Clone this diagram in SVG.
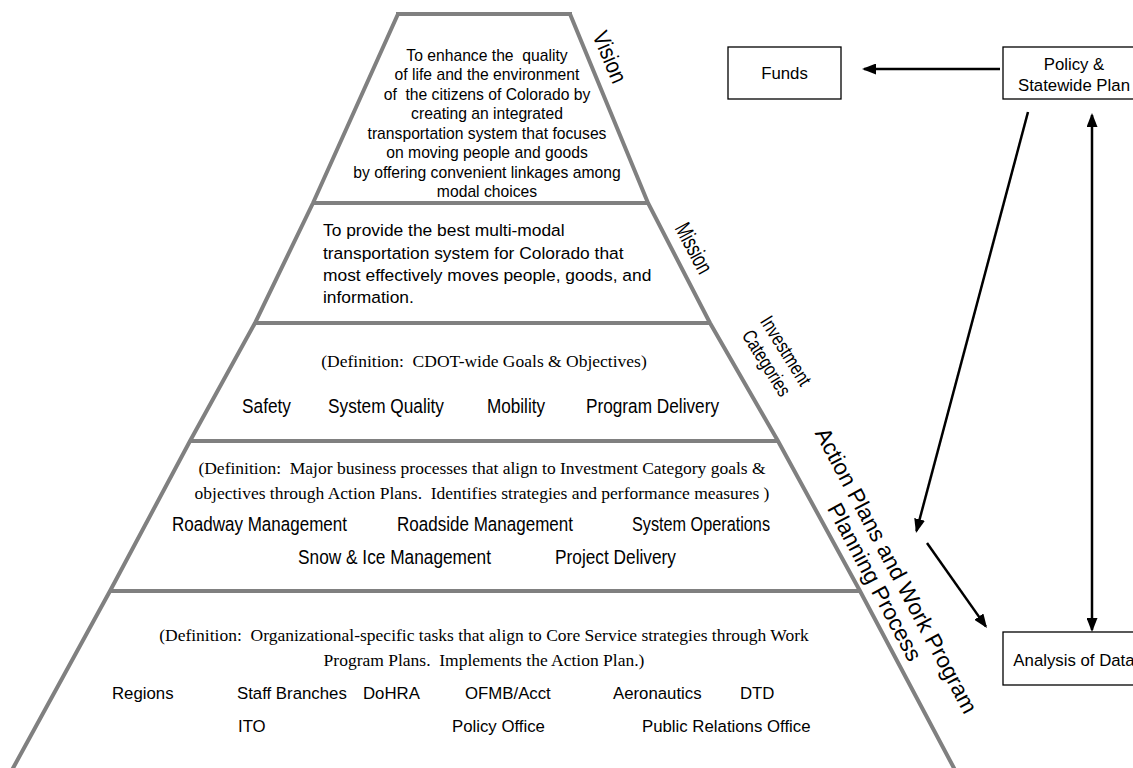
<svg xmlns="http://www.w3.org/2000/svg" width="1133" height="768" viewBox="0 0 1133 768" xml:space="preserve">
<defs>
<style>
text{white-space:pre}
.edge{fill:none;stroke:#808080;stroke-width:4;stroke-linejoin:miter}
.box{fill:#fff;stroke:#000;stroke-width:1.3}
.sans{font-family:"Liberation Sans",Arial,sans-serif;fill:#000}
.serif{font-family:"Liberation Serif","Times New Roman",serif;fill:#000;font-size:17.5px}
.vis{font-size:15.7px;text-anchor:middle}
.mis{font-size:17.4px}
.item{font-size:20.5px}
.org{font-size:16.8px}
.lbl{font-size:23px;text-anchor:middle}
.conn{stroke:#000;stroke-width:2.5;fill:none}
.mid{text-anchor:middle}
</style>
<marker id="ah" markerUnits="userSpaceOnUse" markerWidth="14" markerHeight="11" refX="12" refY="5.5" orient="auto-start-reverse">
<path d="M0,0 L14,5.5 L0,11 z" fill="#000"/>
</marker>
</defs>
<rect width="1133" height="768" fill="#fff"/>
<g id="pyramid">
<path class="edge" d="M398,14 L313,203 L255,323 L190,441 L110,591 L12,770"/>
<path class="edge" d="M570,14 L648,203 L710,323 L778,441 L860,591 L955,770"/>
<path class="edge" d="M396,14 H572 M313,203 H648 M255,323 H710 M190,441 H778 M110,591 H860"/>
</g>
<g id="vision">
<text class="sans vis" x="487" y="60.5">To enhance the  quality</text>
<text class="sans vis" x="487" y="80">of life and the environment</text>
<text class="sans vis" x="487" y="99.5">of  the citizens of Colorado by</text>
<text class="sans vis" x="487" y="119">creating an integrated</text>
<text class="sans vis" x="487" y="138.5">transportation system that focuses</text>
<text class="sans vis" x="487" y="158">on moving people and goods</text>
<text class="sans vis" x="487" y="177.5">by offering convenient linkages among</text>
<text class="sans vis" x="487" y="197">modal choices</text>
<text class="sans lbl" transform="translate(610,57) rotate(67)" y="8" textLength="54" lengthAdjust="spacingAndGlyphs">Vision</text>
</g>
<g id="mission">
<text class="sans mis" x="323" y="236">To provide the best multi-modal</text>
<text class="sans mis" x="323" y="259">transportation system for Colorado that</text>
<text class="sans mis" x="323" y="281">most effectively moves people, goods, and</text>
<text class="sans mis" x="323" y="303">information.</text>
<text class="sans lbl" transform="translate(694,248) rotate(62)" y="8" textLength="54" lengthAdjust="spacingAndGlyphs">Mission</text>
</g>
<g id="investment">
<text class="serif mid" x="484" y="367">(Definition:  CDOT-wide Goals &amp; Objectives)</text>
<text class="sans item" x="242" y="413" textLength="49" lengthAdjust="spacingAndGlyphs">Safety</text>
<text class="sans item" x="328" y="413" textLength="116" lengthAdjust="spacingAndGlyphs">System Quality</text>
<text class="sans item" x="487" y="413" textLength="58" lengthAdjust="spacingAndGlyphs">Mobility</text>
<text class="sans item" x="586" y="413" textLength="133" lengthAdjust="spacingAndGlyphs">Program Delivery</text>
<g transform="translate(776,357) rotate(58)">
<text class="sans mid" style="font-size:20px" y="-5" textLength="78" lengthAdjust="spacingAndGlyphs">Investment</text>
<text class="sans mid" style="font-size:20px" y="18" textLength="74" lengthAdjust="spacingAndGlyphs">Categories</text>
</g>
</g>
<g id="action">
<text class="serif mid" x="482" y="474">(Definition:  Major business processes that align to Investment Category goals &amp;</text>
<text class="serif mid" x="482" y="499">objectives through Action Plans.  Identifies strategies and performance measures )</text>
<text class="sans item" x="172" y="531" textLength="175" lengthAdjust="spacingAndGlyphs">Roadway Management</text>
<text class="sans item" x="397" y="531" textLength="176" lengthAdjust="spacingAndGlyphs">Roadside Management</text>
<text class="sans item" x="632" y="531" textLength="138" lengthAdjust="spacingAndGlyphs">System Operations</text>
<text class="sans item" x="298" y="564" textLength="193" lengthAdjust="spacingAndGlyphs">Snow &amp; Ice Management</text>
<text class="sans item" x="555" y="564" textLength="121" lengthAdjust="spacingAndGlyphs">Project Delivery</text>
<g transform="translate(886,576) rotate(62)">
<text class="sans mid" style="font-size:22.5px" y="-4">Action Plans and Work Program</text>
<text class="sans mid" style="font-size:22.5px" y="20.5">Planning Process</text>
</g>
</g>
<g id="workprogram">
<text class="serif mid" x="484" y="641">(Definition:  Organizational-specific tasks that align to Core Service strategies through Work</text>
<text class="serif mid" x="484" y="666">Program Plans.  Implements the Action Plan.)</text>
<text class="sans org" x="112" y="699">Regions</text>
<text class="sans org" x="237" y="699">Staff Branches</text>
<text class="sans org" x="363" y="699">DoHRA</text>
<text class="sans org" x="465" y="699">OFMB/Acct</text>
<text class="sans org" x="613" y="699">Aeronautics</text>
<text class="sans org" x="740" y="699">DTD</text>
<text class="sans org" x="238" y="732">ITO</text>
<text class="sans org" x="452" y="732">Policy Office</text>
<text class="sans org" x="642" y="732">Public Relations Office</text>
</g>
<g id="funds">
<rect class="box" x="728" y="47" width="113" height="52"/>
<text class="sans org mid" x="784.5" y="79">Funds</text>
</g>
<g id="policy">
<rect class="box" x="1003" y="47" width="142" height="52"/>
<text class="sans org mid" x="1074" y="70">Policy &amp;</text>
<text class="sans org mid" x="1074" y="91">Statewide Plan</text>
</g>
<g id="analysis">
<rect class="box" x="1003" y="632" width="142" height="53"/>
<text class="sans org mid" x="1074" y="666">Analysis of Data</text>
</g>
<g id="connectors">
<line class="conn" x1="1000" y1="69" x2="864" y2="69" marker-end="url(#ah)"/>
<line class="conn" x1="1092" y1="115" x2="1092" y2="630" marker-start="url(#ah)" marker-end="url(#ah)"/>
<line class="conn" x1="1028" y1="112" x2="916.5" y2="531" marker-end="url(#ah)"/>
<line class="conn" x1="927" y1="543" x2="985.8" y2="626.4" marker-end="url(#ah)"/>
</g>
</svg>
